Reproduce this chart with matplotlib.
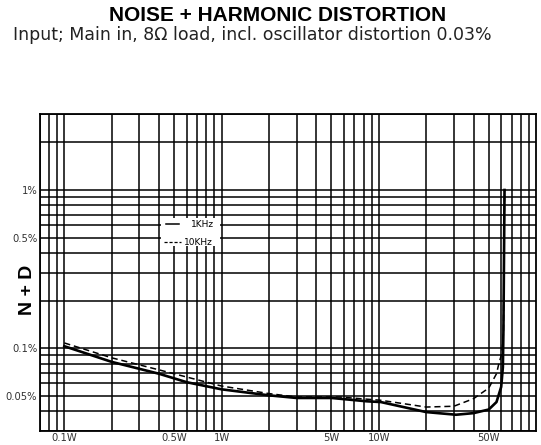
import matplotlib
matplotlib.use("Agg")
import matplotlib.pyplot as plt
from matplotlib.patches import Rectangle

# N+D vs output power
w_1k = [0.1, 0.2, 0.4, 0.6, 1.0, 2.0, 3.0, 5.0, 8.4, 10.3, 20.0, 31.0, 40.0, 50.0, 56.0, 60.0, 61.5, 62.0, 63.0]
nd_1k = [0.103, 0.082, 0.069, 0.061, 0.055, 0.0504, 0.0485, 0.0485, 0.0462, 0.0457, 0.0395, 0.038, 0.0389, 0.041, 0.0457, 0.057, 0.076, 0.13, 1.0]

w_10k = [0.1, 0.2, 0.4, 1.0, 2.0, 3.0, 5.6, 10.3, 20.0, 30.0, 40.0, 50.0, 56.0, 58.0, 60.5, 62.0, 63.0]
nd_10k = [0.108, 0.087, 0.073, 0.0577, 0.0517, 0.0492, 0.0492, 0.0469, 0.0425, 0.043, 0.048, 0.056, 0.069, 0.080, 0.0925, 0.124, 1.0]

x_ticks = [0.1, 0.5, 1, 5, 10, 50]
x_labels = ["0.1W", "0.5W", "1W", "5W", "10W", "50W"]
y_ticks = [0.05, 0.1, 0.5, 1]
y_labels = ["0.05%", "0.1%", "0.5%", "1%"]

# graph paper lines: 1..9 in every decade
x_grid = [m * 10.0 ** e for e in (-2, -1, 0, 1) for m in range(1, 10)]
y_grid = [m * 10.0 ** e for e in (-2, -1, 0) for m in range(1, 10)]

fig = plt.figure(figsize=(5.41, 4.45), dpi=100)
ax = fig.add_axes([0.0739, 0.0315, 0.917, 0.7112])

ax.set_xscale("log")
ax.set_yscale("log")

ax.set_xticks(x_grid, minor=True)
ax.set_yticks(y_grid, minor=True)
ax.set_xticks(x_ticks, labels=x_labels)
ax.set_yticks(y_ticks, labels=y_labels)
ax.xaxis.set_minor_formatter(plt.NullFormatter())
ax.yaxis.set_minor_formatter(plt.NullFormatter())
ax.tick_params(which="both", length=0)
ax.tick_params(axis="x", labelsize=7.2, pad=1.5, colors="#333333")
ax.tick_params(axis="y", labelsize=7.2, pad=2, colors="#333333")
ax.set_xlim(0.07, 100)
ax.set_ylim(0.03, 3)
ax.grid(which="both", color="black", linewidth=1.1)
for s in ax.spines.values():
    s.set_linewidth(1.3)

ax.plot(w_1k, nd_1k, color="black", linewidth=1.9, zorder=3)
ax.plot(w_10k, nd_10k, color="black", linewidth=1.1, dashes=(4, 2.5), zorder=3)

# hand-drawn legend, the grid is blanked out behind it
ax.add_patch(Rectangle((0.41, 0.44), 0.98 - 0.41, 0.665 - 0.44, facecolor="white",
                       edgecolor="none", zorder=2.5))
ax.plot([0.443, 0.536], [0.607, 0.607], color="black", linewidth=1.1, zorder=3)
ax.plot([0.43, 0.55], [0.469, 0.469], color="black", linewidth=0.9, dashes=(2.5, 1.5), zorder=3)
ax.text(0.64, 0.607, "1KHz", fontsize=6.5, va="center", ha="left", zorder=4)
ax.text(0.576, 0.469, "10KHz", fontsize=6.5, va="center", ha="left", zorder=4)

fig.text(0.513, 0.966, "NOISE + HARMONIC DISTORTION", ha="center", va="center",
         fontsize=15, fontweight="bold", family="Liberation Sans")
fig.text(0.024, 0.921, "Input; Main in, 8\u03a9 load, incl. oscillator distortion 0.03%",
         ha="left", va="center", fontsize=12.5, family="DejaVu Sans", color="#222222")
fig.text(0.05, 0.348, "N + D", rotation=90, ha="center", va="center",
         fontsize=14, fontweight="bold", family="Liberation Sans")

fig.savefig("out.png", dpi=100)
